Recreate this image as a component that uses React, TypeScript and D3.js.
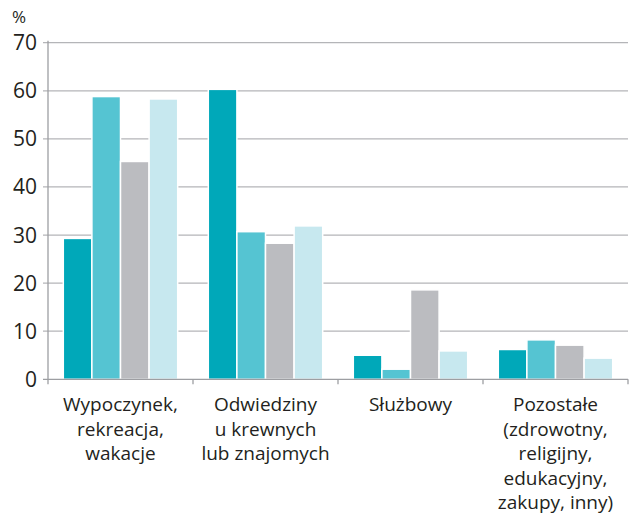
import { useEffect, useRef } from 'react';
import * as d3 from 'd3';

const categories = [
	['Wypoczynek,', 'rekreacja,', 'wakacje'],
	['Odwiedziny', 'u krewnych', 'lub znajomych'],
	['Służbowy'],
	['Pozostałe', '(zdrowotny,', 'religijny,', 'edukacyjny,', 'zakupy, inny)'],
];
const series = ['s1', 's2', 's3', 's4'];
const values = [
	[29.3, 58.8, 45.3, 58.3],
	[60.3, 30.7, 28.3, 31.9],
	[5.0, 2.1, 18.6, 5.9],
	[6.2, 8.2, 7.1, 4.4],
];
const yTicks = [0, 10, 20, 30, 40, 50, 60, 70];
const colors = ['#00a8b9', '#55c4d2', '#bbbcc0', '#c7e8ef'];

const W = 631;
const H = 517;

const Chart: React.FC = () => {
	const svgRef = useRef<SVGSVGElement>(null);

	useEffect(() => {
		if (!svgRef.current) return;
		const svg = d3.select(svgRef.current);
		svg.selectAll('*').remove();

		const left = 48;
		const right = 628;
		const top = 42.7;
		const bottom = 379.3;
		const font = '"Open Sans", sans-serif';
		const textColor = '#231f20';

		const keys = categories.map((c) => c.join(' '));
		const x = d3.scaleBand<string>().domain(keys).range([left, right]);
		const xs = d3
			.scaleBand<string>()
			.domain(series)
			.range([15.3, x.bandwidth() - 15.3]);
		const y = d3.scaleLinear().domain([0, 70]).range([bottom, top]);

		// grid
		svg.append('g')
			.selectAll('line')
			.data(yTicks.filter((t) => t > 0))
			.join('line')
			.attr('x1', left - 5)
			.attr('x2', right)
			.attr('y1', (d) => y(d))
			.attr('y2', (d) => y(d))
			.attr('stroke', '#b4b5b8')
			.attr('stroke-width', 1.3);

		// bars
		const groups = svg
			.append('g')
			.selectAll('g')
			.data(values)
			.join('g')
			.attr('transform', (_, i) => `translate(${x(keys[i])},0)`);

		groups
			.selectAll('rect')
			.data((d) => d)
			.join('rect')
			.attr('x', (_, j) => xs(series[j]) ?? 0)
			.attr('width', xs.bandwidth())
			.attr('y', (d) => y(d))
			.attr('height', (d) => bottom - y(d))
			.attr('fill', (_, j) => colors[j])
			.attr('stroke', '#fff')
			.attr('stroke-width', 1.5);

		// axes
		svg.append('line')
			.attr('x1', left)
			.attr('x2', left)
			.attr('y1', top - 2)
			.attr('y2', bottom + 5)
			.attr('stroke', '#9d9ea2')
			.attr('stroke-width', 1.3);
		svg.append('line')
			.attr('x1', left - 5)
			.attr('x2', right)
			.attr('y1', bottom)
			.attr('y2', bottom)
			.attr('stroke', '#9d9ea2')
			.attr('stroke-width', 1.3);
		svg.append('g')
			.selectAll('line')
			.data(keys.slice(1).concat(['end']))
			.join('line')
			.attr('x1', (_, i) => left + x.bandwidth() * (i + 1))
			.attr('x2', (_, i) => left + x.bandwidth() * (i + 1))
			.attr('y1', bottom)
			.attr('y2', bottom + 5)
			.attr('stroke', '#9d9ea2')
			.attr('stroke-width', 1.3);

		// y labels
		svg.append('g')
			.selectAll('text')
			.data(yTicks)
			.join('text')
			.attr('x', 37)
			.attr('y', (d) => y(d) + 7.5)
			.attr('text-anchor', 'end')
			.style('font-family', font)
			.style('font-size', '21px')
			.style('fill', textColor)
			.text((d) => d);

		svg.append('text')
			.attr('x', 12)
			.attr('y', 23)
			.style('font-family', font)
			.style('font-size', '17px')
			.style('fill', textColor)
			.text('%');

		// category labels
		const labels = svg
			.append('g')
			.selectAll('text')
			.data(categories)
			.join('text')
			.attr('text-anchor', 'middle')
			.style('font-family', font)
			.style('font-size', '19px')
			.style('fill', textColor);
		labels
			.selectAll('tspan')
			.data((d) => d)
			.join('tspan')
			.attr('x', function () {
				const parent = (this as SVGTSpanElement).parentNode as SVGTextElement;
				const i = categories.indexOf(d3.select(parent).datum() as string[]);
				return (x(keys[i]) ?? 0) + x.bandwidth() / 2;
			})
			.attr('y', (_, k) => 411 + k * 24.5)
			.text((d) => d);
	}, []);

	return <svg ref={svgRef} width={W} height={H} style={{ display: 'block' }}></svg>;
};

export default function App() {
	useEffect(() => {
		document.body.style.margin = '0';
	}, []);
	return <Chart />;
}
